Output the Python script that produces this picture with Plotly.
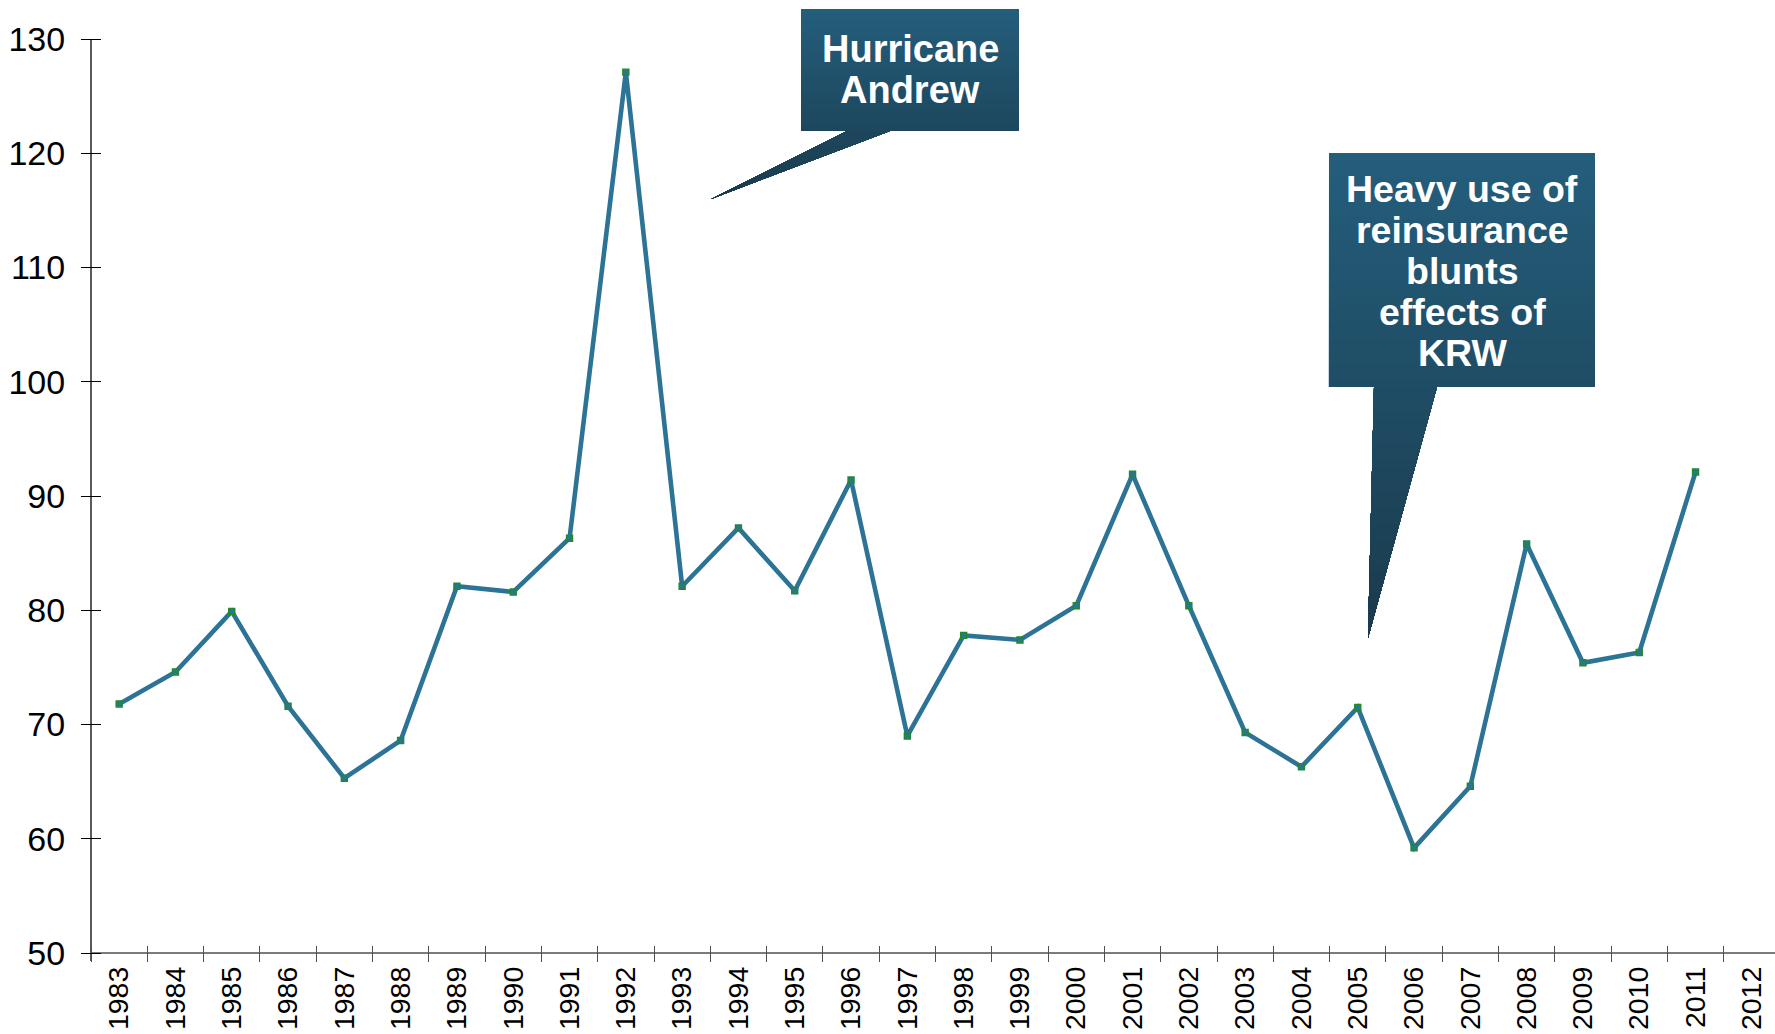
import plotly.graph_objects as go

years = [str(y) for y in range(1983, 2013)]
values = [71.8, 74.6, 79.9, 71.6, 65.3, 68.6, 82.1, 81.6, 86.3, 127.1,
          82.1, 87.2, 81.7, 91.4, 69.0, 77.8, 77.4, 80.4, 91.9, 80.4,
          69.3, 66.3, 71.5, 59.2, 64.6, 85.8, 75.4, 76.3, 92.1, None]
y_ticks = [50, 60, 70, 80, 90, 100, 110, 120, 130]

callout1_lines = ["Hurricane", "Andrew"]
callout2_lines = ["Heavy use of", "reinsurance", "blunts", "effects of", "KRW"]

W, H = 1775, 1034
ML, MR, MT, MB = 91, 0, 39, 81
PW = W - ML - MR
PH = H - MT - MB


def px_x(x):
    return (x - ML) / PW


def px_y(y):
    return (H - MB - y) / PH


def clip_band(poly, ya, yb):
    def clip(pts, keep, inter):
        out = []
        n = len(pts)
        for i in range(n):
            p, q = pts[i], pts[(i + 1) % n]
            kp, kq = keep(p), keep(q)
            if kp:
                out.append(p)
            if kp != kq:
                out.append(inter(p, q))
        return out

    def inter_at(yv):
        def f(p, q):
            t = (yv - p[1]) / (q[1] - p[1])
            return (p[0] + t * (q[0] - p[0]), yv)
        return f

    pts = clip(poly, lambda p: p[1] >= ya, inter_at(ya))
    if not pts:
        return []
    pts = clip(pts, lambda p: p[1] <= yb, inter_at(yb))
    return pts


def lerp_color(c0, c1, t):
    return "rgb(%d,%d,%d)" % tuple(round(a + (b - a) * t) for a, b in zip(c0, c1))


def callout_shapes(box, tail, y_top, y_bot, n=40):
    c_top = (36, 94, 124)
    c_bot = (26, 58, 76)
    shapes = []
    pieces = [box, tail]
    step = (y_bot - y_top) / n
    for i in range(n):
        ya = y_top + i * step
        t = (i + 0.5) / n
        col = lerp_color(c_top, c_bot, t)
        for poly in pieces:
            pts = clip_band(poly, ya, y_bot)
            if len(pts) < 3:
                continue
            path = "M " + " L ".join("%.5f,%.5f" % (px_x(x), px_y(y)) for x, y in pts) + " Z"
            shapes.append(dict(type="path", path=path, xref="paper", yref="paper",
                               fillcolor=col, line=dict(width=0), layer="above"))
    return shapes


fig = go.Figure()
fig.add_trace(go.Scatter(
    x=years, y=values, mode="lines+markers",
    line=dict(color="#2C7396", width=4.6),
    marker=dict(symbol="square", size=6, color="#2C7396",
                line=dict(color="#1E8B2A", width=1.4)),
    connectgaps=False, showlegend=False, hoverinfo="x+y",
    cliponaxis=False,
))

shapes = []
# axis lines (ticks cross these lines)
shapes.append(dict(type="line", xref="paper", yref="paper", x0=0, x1=0,
                   y0=px_y(961), y1=1, line=dict(color="black", width=1.3), layer="below"))
shapes.append(dict(type="line", xref="paper", yref="paper", x0=0, x1=1,
                   y0=0, y1=0, line=dict(color="#505050", width=1.3), layer="below"))

box1 = [(801, 9), (1019, 9), (1019, 131), (801, 131)]
tail1 = [(847, 131), (890, 131), (711, 199)]
shapes += callout_shapes(box1, tail1, 9, 199)
box2 = [(1329, 153), (1595, 153), (1595, 387), (1329, 387)]
tail2 = [(1374, 387), (1437, 387), (1368, 638)]
shapes += callout_shapes(box2, tail2, 153, 638, n=60)

annotations = []
for i, t in enumerate(callout1_lines):
    annotations.append(dict(text=t, xref="paper", yref="paper", x=px_x(910),
                            y=px_y(49 + i * 41), xanchor="center", yanchor="middle",
                            showarrow=False,
                            font=dict(family="Liberation Sans", size=38, color="white", weight="bold")))
for i, t in enumerate(callout2_lines):
    annotations.append(dict(text=t, xref="paper", yref="paper", x=px_x(1462),
                            y=px_y(189 + i * 41), xanchor="center", yanchor="middle",
                            showarrow=False,
                            font=dict(family="Liberation Sans", size=37.5, color="white", weight="bold")))

cat_w = PW / 56.3
xr = [-0.5, -0.5 + cat_w]
fig.update_layout(
    width=W, height=H,
    margin=dict(l=ML, r=MR, t=MT, b=MB),
    paper_bgcolor="white", plot_bgcolor="white",
    font=dict(family="Liberation Sans", color="black"),
    shapes=shapes, annotations=annotations,
    xaxis=dict(type="category", categoryorder="array", categoryarray=years,
               range=xr, showgrid=False, zeroline=False,
               anchor="free", position=8 / PH,
               showline=False,
               ticks="outside", ticklen=16, tickcolor="#505050", tickwidth=1.3,
               tickson="boundaries", tickangle=-90,
               tickfont=dict(size=28.5, family="Liberation Sans"),
               ticklabelstandoff=15),
    yaxis=dict(range=[50, 130], tickvals=y_ticks, showgrid=False, zeroline=False,
               anchor="free", position=10 / PW,
               showline=False,
               ticks="outside", ticklen=20, tickcolor="black", tickwidth=1.3,
               tickfont=dict(size=34, family="Liberation Sans"),
               ticklabelstandoff=9),
)

fig.write_html("out.html")
